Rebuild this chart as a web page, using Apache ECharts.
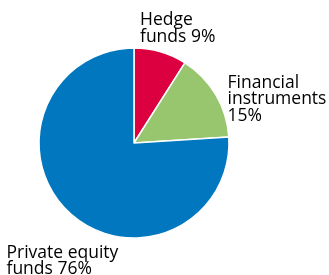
<!DOCTYPE html>
<html><head><meta charset="utf-8">
<script src="https://cdn.jsdelivr.net/npm/echarts@6/dist/echarts.min.js"></script>
<style>html,body{margin:0;padding:0;background:#fff}#c{width:329px;height:275px}</style>
</head><body><div id="c"></div>
<script>
var categories = ["Hedge funds", "Financial instruments", "Private equity funds"];
var values = [9, 15, 76];
var labelTexts = ["Hedge\nfunds 9%", "Financial\ninstruments\n15%", "Private equity\nfunds 76%"];
var colors = ["#dc0041", "#97c66f", "#0077bf"];
var labelPos = [[140, 12], [227.5, 74.5], [6.5, 244.5]];

var chart = echarts.init(document.getElementById('c'), null, {renderer: 'canvas'});
chart.setOption({
  animation: false,
  series: [{
    type: 'pie',
    center: [134, 143],
    radius: [0, 95],
    startAngle: 90,
    clockwise: true,
    data: categories.map(function (c, i) {
      return {name: c, value: values[i], itemStyle: {color: colors[i]}};
    }),
    itemStyle: {borderColor: '#fff', borderWidth: 1.5},
    label: {
      show: true,
      position: 'outside',
      formatter: function (p) { return labelTexts[p.dataIndex]; },
      fontFamily: 'Open Sans',
      fontSize: 17.5,
      lineHeight: 16.5,
      color: '#000',
      align: 'left',
      overflow: 'none'
    },
    labelLine: {show: false},
    labelLayout: function (p) {
      return {x: labelPos[p.dataIndex][0], y: labelPos[p.dataIndex][1], align: 'left', verticalAlign: 'top', width: 200};
    },
    emphasis: {disabled: true}
  }]
});
</script></body></html>
